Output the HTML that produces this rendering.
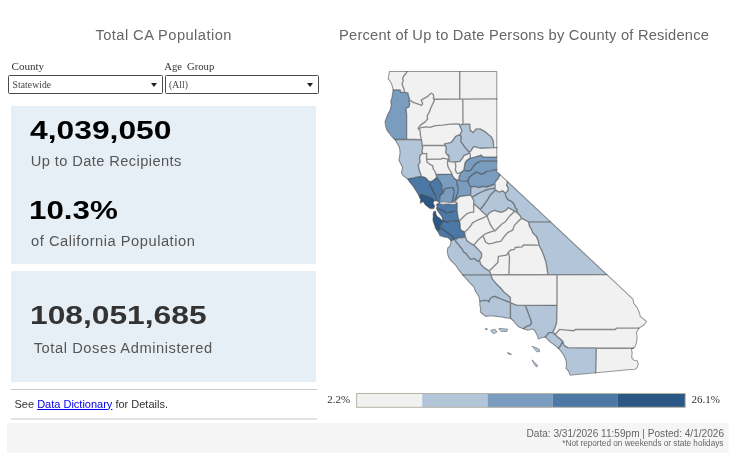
<!DOCTYPE html>
<html><head><meta charset="utf-8">
<style>
html,body{margin:0;padding:0;background:#fff;}
body{width:736px;height:454px;position:relative;overflow:hidden;font-family:"Liberation Sans",sans-serif;}
.abs{position:absolute;white-space:nowrap;line-height:1;}
.title{font-size:14.67px;color:#666;}
.lbl{font-family:"Liberation Serif",serif;font-size:11.3px;color:#333;}
.dd{position:absolute;box-sizing:border-box;border:1px solid #4a4a4a;border-radius:1.5px;background:#fff;height:18.2px;}
.dd span{position:absolute;left:3.3px;top:4.1px;font-family:"Liberation Serif",serif;font-size:9.6px;letter-spacing:0.1px;color:#444;line-height:1;white-space:nowrap;}
.dd i{position:absolute;right:4.9px;top:6.7px;width:0;height:0;border-left:3.2px solid transparent;border-right:3.2px solid transparent;border-top:4px solid #222;}
.panel{position:absolute;background:#e6eff6;}
.big{font-weight:bold;font-size:26.67px;color:#000;transform:scaleX(1.17);transform-origin:0 0;}
.sub{font-size:14.67px;color:#555;}
</style></head><body>
<div class="abs title" id="t1" style="left:95.4px;top:28.4px;letter-spacing:0.45px;">Total CA Population</div>
<div class="abs title" id="t2" style="left:339px;top:28.4px;letter-spacing:0.225px;">Percent of Up to Date Persons by County of Residence</div>
<div class="abs lbl" id="c1" style="left:11.5px;top:60.7px;font-size:11.1px;">County</div>
<div class="abs lbl" id="c2" style="left:164.3px;top:61px;font-size:10.7px;word-spacing:2.2px;">Age Group</div>
<div class="dd" style="left:8.2px;top:75.4px;width:154.4px;"><span id="d1">Statewide</span><i></i></div>
<div class="dd" style="left:164.7px;top:75.4px;width:154.3px;"><span id="d2">(All)</span><i></i></div>
<div class="panel" style="left:11px;top:106px;width:305.4px;height:158px;"></div>
<div class="panel" style="left:11px;top:271px;width:305.4px;height:110.6px;"></div>
<div class="abs big" id="n1" style="left:30.3px;top:116.9px;transform:scaleX(1.193);">4,039,050</div>
<div class="abs sub" id="s1" style="left:30.8px;top:153.7px;letter-spacing:0.4px;">Up to Date Recipients</div>
<div class="abs big" id="n2" style="left:29.3px;top:196.9px;transform:scaleX(1.175);">10.3%</div>
<div class="abs sub" id="s2" style="left:31.1px;top:233.8px;letter-spacing:0.53px;">of California Population</div>
<div class="abs big" id="n3" style="left:30.3px;top:301.9px;transform:scaleX(1.191);color:#333;">108,051,685</div>
<div class="abs sub" id="s3" style="left:33.7px;top:341px;letter-spacing:0.57px;">Total Doses Administered</div>
<div class="abs" style="left:11px;top:389px;width:305.5px;height:1px;background:#cacaca;"></div>
<div class="abs" style="left:11px;top:418px;width:305.5px;height:2px;background:#e3e3e3;"></div>
<div class="abs" id="see" style="left:14.5px;top:398.7px;font-size:11px;color:#333;">See <a style="color:#0000ee;text-decoration:underline;">Data Dictionary</a> for Details.</div>
<svg class="abs" style="left:0;top:0" width="736" height="454"><rect x="7.15" y="423" width="721.45" height="29.7" fill="#f5f5f5"/></svg>
<div class="abs" id="f1" style="right:12px;top:428.5px;font-size:10.08px;color:#666;">Data: 3/31/2026 11:59pm | Posted: 4/1/2026</div>
<div class="abs" id="f2" style="right:12.6px;top:439.7px;font-size:8.2px;color:#666;">*Not reported on weekends or state holidays</div>
<svg width="736" height="454" viewBox="0 0 736 454" style="position:absolute;left:0;top:0">
<path d="M389.4,71.6 388.2,79 389.6,80.5 391.6,84 392.6,87 393.1,89.6 399.6,89.6 400.1,90 400.6,92.2 404.2,92.2 403.8,88.6 402.2,85 402,83.1 403.1,81 403.1,80.2 402.5,78.6 403.6,75.9 406.2,72.9 406.5,71.6ZM402.8,78 402.6,79.1 403.2,80.6 402.1,82.8 402.1,83.6 402.8,86.4 404,89.1 404.5,92.2 407.4,92.8 407.9,93.1 408.6,96.8 409.5,98.8 409.5,100.1 413.9,102.6 417.1,103.6 420.6,105.1 421.6,105.1 422.4,104.2 422.4,103.1 421.1,100.1 427.8,96.4 430.4,93.8 431.4,93.2 433.4,94.9 433.8,97 433.5,98.9 434,99.1 459.5,99 459.5,71.6 406.8,71.6 405.8,73.4 403.8,75.5ZM459.8,71.6 459.8,99 496.6,98.8 496.6,71.6ZM431.9,93.5 430.8,93.5 430,93.9 427.2,96.6 421.4,100 421.4,100.8 422.6,103.8 421.2,105.4 418.4,104.1 414.4,102.9 410,100.4 409.2,100.4 409.1,101.9 409.8,104.1 408.9,106.8 408.2,107.2 406.9,107.6 406.1,108.6 406.2,112 406.6,113.9 406.6,139 421.1,139.6 420.2,135 420,130.4 418.2,128.5 418.8,127.1 421.8,124.1 424.9,122.1 427.5,119 427,116.2 428.9,112.8 431.1,106.9 433.8,101.8 434.2,100.1 434.2,99.2 433.2,98.8 433.5,97.5 433.2,94.6ZM462.9,99.2 463,123.9 469.6,124 469.9,124.4 470.1,130.1 472.5,132.2 473.2,132.2 476.8,128.6 479.9,128.6 484.1,131 491.5,137.1 493.4,141.6 493.8,147.5 496.6,147.5 496.6,99ZM462.6,99.2 434.5,99.4 434,101.1 431.4,106.2 429.1,112.1 427.1,115.9 427.6,118.8 424.8,122.1 421.2,124.4 419,126.6 418.8,128.2 419.6,128.2 421.6,127.4 426.4,126.8 430.5,127.1 435.2,125.5 442.4,125 450.2,123.9 458.6,123.6 459.1,124 459.4,124.8 460.2,124.8 462.8,124ZM459,123.9 449.5,124.1 442.8,125.1 435.5,125.6 430,127.4 425.5,127 421.5,127.5 418.8,128.5 418.8,129.4 420.2,131 420.5,135.5 421.5,139.8 422.2,145.4 444.4,145.4 444.4,144 444.6,143.8 451.2,142.4 455.9,136.1 460.1,134.2 461.8,131 461.8,130.2ZM448.9,159 448.6,155.8 448.2,155.8 445.6,152.6 446.1,147.2 445.2,145.5 422.4,145.6 422.6,148.2 422.1,151.8 422.9,153.2 426.8,153.6 426.8,159.2 441.5,158.8 442.5,158.1 447.2,159ZM469.5,152.2 469.5,153 470.2,154.4 470.2,157.9 474.4,157.1 478,155.9 480.6,155.4 480.9,155 483,156.9 496.6,156.9 496.6,147.8 481.5,148.4 477.8,147.8 474.6,146.6 473.6,146.6 471.6,149.8ZM469.6,153.1 468.8,153.1 467.2,154.1 463.6,155.6 462.5,158.1 459.9,161.4 455.4,161.9 455.9,166.2 455.4,169.9 456.4,172.5 457.2,173.4 458.2,173.4 460.5,172.5 463.6,170.1 465,162.8 466.6,160.4 470,158.2 470,153.8ZM422.4,153.4 420.1,155.2 419.6,158.1 420.1,161.9 418.4,164.8 418.9,168.8 421.4,176.2 424.9,177.4 428.1,180.6 429.6,181.6 430.8,181.6 433.2,180.5 436.6,177.5 436,174.4 434.9,171.5 433,168.6 432.5,165.8 430,164.4 426.9,161.8 426.5,159.4 426.5,153.8ZM426.9,159.5 427.1,162.2 430,164.4 432.6,165.9 433.2,169 435.2,172.1 436,174.2 451.5,173.9 451.1,172.1 449.2,169.4 447.6,166 447.2,163.1 447.6,159.1 442.2,158.2 440.9,159ZM447.9,159.2 447.5,162 447.9,166.6 449.2,169.4 451.1,172.1 452.5,175.8 453.8,177.9 456.5,179.8 458.6,180 459,176.4 460.2,174.6 460,173 459.2,173 457.6,173.6 456.1,171.9 455.2,169.6 455.6,165.5 455.1,162 449.4,161.6 448.9,161.1 448.9,159.2ZM499.8,174.9 498.4,177.9 495.2,181.6 494.9,183.2 495.2,186.4 495,188.6 495.9,190.2 498.4,191.8 499.8,191.8 502.6,190.8 504.9,193 505.6,193 507.6,191 508.2,188.8 508.2,187.9 506.5,184.9 507.2,181.2 500.5,174.9ZM470.5,195.2 459.8,196.5 457.9,197.9 455.4,200.9 454.6,201.1 454.6,201.9 456.6,202.9 457.1,203.5 457.1,211.5 457.8,216.1 459,220.6 459.8,220.6 464,216.2 467.2,213.4 470.6,212.1 473.5,212.1 473.8,200.4 472,196.9ZM438.6,202 438.6,203.1 440.1,203.8 442.5,204.1 446.5,203.9 452.9,204.1 456.2,203.9 456.5,203.6 456.4,202.8 454.5,201.8 453.2,201.8 450.5,202.5 448,202.4 444.6,201.8 440.6,202.2ZM474.6,204.4 473.8,204.4 473.6,212.1 473.2,212.4 470,212.4 466.9,213.5 459.5,220.6 460.2,224.5 460.2,228.9 461.5,230.8 463.9,231.8 465,231.8 468.2,228.8 471.4,224.9 472.8,222.6 477.4,220.1 486.5,216.2 486.5,215.5 480,209.1ZM514.5,210.9 508.9,207.9 508,207.9 505.1,210.8 501.4,212.2 498.6,211.8 495.1,210.4 494.4,210.4 491.4,211.5 488.9,213.2 487.2,215.5 487.2,216.8 490.6,225.2 493,228.9 494.8,230.4 495.5,230.4 502.2,223.6 505.8,221.2 509.1,216.8 514.5,211.6ZM520.1,215.5 517.1,212.5 515.6,211.5 514.5,211.5 513.8,211.9 509.5,216.1 505.4,221.6 501.9,223.9 494.9,230.8 485.8,233.5 483,235.4 483,236.2 484.6,239.4 485.6,242.1 488.5,243.6 489.4,243.6 493.4,242.9 497.1,241.6 500.8,241.2 503.4,237.5 507.8,232.5 512.6,230.1 514.4,225.2 521.1,218.5 521.1,217.5ZM487.1,216.2 486,216.4 476.8,220.4 472.2,222.9 471.2,224.9 468.8,228 464.8,231.8 465.1,236.2 466.6,240 467.2,240.9 470,243 473.2,244.8 474,244.8 479.4,238.8 483.2,235.2 486.2,233.2 494.5,230.8 494.5,230 493,228.9 490.6,225.2ZM528.1,221.5 522,218.4 521,218.4 514.5,224.9 512.8,229.9 507.4,232.6 503.8,236.9 501,240.9 500.2,241.5 496.5,241.9 492.2,243.2 488.9,243.8 485.5,241.9 484.4,238.8 483,236 482.2,236 478.1,239.8 474,244.6 474,245.4 479.8,251.1 481.6,253.5 481.6,256.5 479.9,259.2 479.6,261 480.8,264.2 483.9,267.5 488.8,270.8 489.6,270.8 497.6,262.8 498.1,257.4 498.5,256.2 506.2,255 507.8,253 510.9,250 514.5,249.4 514.9,248 515.5,247.4 522.1,246.8 523.6,244.9 538.6,245 538.2,241.4 536.4,236.2 532.5,232.4 531.1,229 529.4,226.2ZM508.2,252.2 508.2,253 509.6,257 508.9,274.6 547.6,274.5 547,268.1 545.8,261.5 541.5,249.9 539,245.2 523.1,245.1 521.6,247 515.1,247.6 514.4,249.4 510.8,250ZM508.4,253.2 507.5,253.2 506.1,255.1 498.5,256.2 497.8,262.4 489.5,270.6 489.5,271.6 490.9,274.6 508.6,274.6 509.4,256.4ZM557.1,274.8 557,307.5 556.6,322.4 555.1,327.2 552.8,331.9 552.8,332.6 554.9,333.5 555.9,333.5 559.6,329.4 574.1,330.5 575.5,329.2 615.5,329.2 616.8,328 639.1,328 643.9,325.1 646.1,322 646,320.9 640.1,316.1 639.4,312.9 637,307.5 633.6,303.2 632.9,298.8 607.2,274.8ZM556.8,304.9 556.9,274.8 491.2,274.9 491.2,275.9 492.1,278.9 495.1,282.6 500.9,288.4 503.9,292 510.4,297.6 510.5,302.6 516,304.9 518.2,305ZM638.5,328.2 616.1,328.2 614.9,329.5 574.9,329.5 573.8,330.6 559.2,329.5 555.5,333.8 554.8,333.8 554.8,334.5 563,341.6 563.9,345.1 567.4,347.5 596.1,347.8 596.5,348 633.5,348 635,346.5 636.2,342.9 636.9,338.4 636.4,332.6 638.5,329ZM596.4,348.2 595.8,372.5 635.4,369 637,367.6 638.1,364.2 638.1,363.5 637.1,361 634.1,360.2 631.5,357.2 631.9,351.9 631.4,348.2Z" fill="#f1f1f1"/>
<path d="M459.8,124.9 459.8,126 461.9,130.6 460.1,134 460.1,134.8 461.2,136.9 460.8,141.6 465,147.8 469,152 469.9,152 474,146.4 477.6,147.6 480.6,148.1 493.5,147.5 493.1,141 491.4,136.9 484.6,131.2 480.4,128.9 476.1,128.9 472.8,132.4 469.9,129.6 469.6,124.1 462.4,124.1ZM460.1,134.6 459,134.8 455.6,136.2 451,142.5 444.8,143.9 444.8,144.8 446.2,147.6 445.8,152.9 447.6,155.2 448.8,155.2 449.1,161.4 456.1,161.8 460.1,161.2 462.5,158.2 463.9,155.5 466.4,154.5 469.2,152.9 469.2,152 464.6,147.1 460.6,141.4 461.1,136.5ZM395.4,139.6 395.4,140.4 399.5,147.9 400.1,152.6 398.9,160.4 402.5,167.5 401.4,172.8 403,175.5 407.2,178.6 412.5,178.1 417.8,176.8 421.1,176.2 421.1,175.5 418.8,168.6 418.2,165 420,162.1 419.4,158.8 420,155.4 422.4,153.5 422,150.8 422.5,147.1 422,145.4 421.4,139.9 408.2,139.2ZM507.2,182 506.6,185.4 508.4,188.6 507.9,190.5 505.4,193 506,196.6 507.9,199.6 511.2,201.2 514.1,204.1 515.4,207.9 517.1,209.8 517.1,212.8 520.2,215.9 521.5,218.2 527.9,221.5 549.6,221.6 549.6,220.9 511.9,185.5 508.1,182ZM494.8,184.1 493.8,184.1 490.2,185.8 486.6,187 482.2,186.5 479.1,187.6 475.5,186.5 470.9,187 470.9,192.6 470.4,195.4 471.6,196.8 472.5,196.8 484.1,190.6 490.2,188.8 494.8,188.2 495,187.1ZM495,188.4 489.6,189 483.5,190.9 472.4,196.8 472.2,197.6 474,201 473.8,203.9 479.6,209 480.5,209 483.4,205.9 484.2,204.2 487.8,199.5 490,195.4 494.2,191.1 495.5,190.4 495.5,189.5ZM480.4,209 480.4,209.8 486.5,215.6 487.2,215.6 488.6,213.5 491.5,211.5 494.6,210.2 498,211.5 501.6,212.1 505.5,210.6 507.8,208.5 508.1,207.6 516.1,212 516.9,212 516.9,209.1 515.1,207.4 513.9,203.6 511.6,201.4 507.6,199.4 505.8,196.2 505.1,193 503.1,191 501.9,191 498.9,192 496.2,190.4 495.2,190.4 493.8,191.4 490,195.1 487.6,199.5 483.5,205.5ZM528.5,221.8 529.5,226.4 531.5,229.6 532.6,232.8 536.6,236.9 538.4,241.6 539,245.5 541.8,250.5 544.2,256.8 546,262 547.2,268.8 547.9,274.5 606,274.4 606,273.6 550.9,222ZM455.4,239.2 455.4,240.4 456.2,242.2 458.9,244.9 459.5,246.4 462.1,249 463.5,251.9 466.4,254.1 470.2,259 471.8,259 474.1,258.5 477.8,261.1 478.6,261.1 479.5,260.5 479.9,259.2 481.4,257.1 481.4,252.9 473.9,245 470.5,243.2 467.4,240.9 466.6,240 465.5,237 461.9,237.6 460.4,237.6 459.6,237.1 458.8,237.1 456.6,238.9ZM451,240.6 450.6,243.6 449.9,246 448,247.5 447.6,248.2 447.4,252.5 448.2,256.4 449.8,259.4 455.8,265.5 458.9,270.1 462.5,274.8 490.6,274.6 490.6,273.9 489.4,271.1 484.4,267.8 480.6,263.9 479.6,260.9 478.9,260.9 478.2,261.4 474.4,258.6 470.6,259.2 466.4,254 463.5,251.8 462,248.6 459.4,246 458.8,244.5 456.1,241.9 455.1,239.6 453.1,239.8ZM463.4,275 463.4,275.8 470,283.2 474,287.2 475.4,291.2 478.9,296.5 479.8,300.8 484,300.1 487.8,300.5 488.2,301 489.1,301 489.9,299 493.1,296.5 495,296.2 498.6,298.1 509.2,302.1 510.2,302.1 510.2,297.2 504.5,292.4 500.4,287.6 494.8,282 492,278.6 491,274.9ZM479.9,301 479.9,305.5 480.6,308.2 480.4,312.1 485.4,316.2 491.2,315.6 501.4,316.9 505.8,317.8 510.2,318.1 510.1,302.4 499.2,298.4 495.4,296.4 492.9,296.6 490.2,298.5 488.8,301.8 488.2,300.8 483.2,300.4ZM510.5,302.9 510.5,318.4 513.8,321.4 515.8,324 518.8,327 522.1,328.2 523.6,328.4 526.9,326.1 530.2,325.1 531.4,323 531.4,322.1 525.2,305.5 516.6,305.1 511.4,302.9ZM556.8,305.1 525.5,305.4 525.6,306.6 530,317.9 531.5,322.6 530,325.2 526.1,326.5 523.9,328.1 523.9,328.9 527.2,330 532.6,328.9 535.4,331.6 537.4,335.6 538.4,338.6 539.1,338.6 541.8,337.5 545.2,337 549.1,332.4 552.6,332.4 554.9,327.9 556.4,323ZM548.6,332.6 545.6,336.4 545.5,337.4 550,341.9 557.5,347.6 558.6,347.9 560.1,346.4 562.6,342 562.6,341.1 552.8,332.6ZM562.2,342.2 560.1,346.1 558.5,347.8 558.5,348.5 561.4,351.8 564.2,356.1 566.1,360.9 566.5,365.1 566,368.5 568.5,371 570,375 595.5,372.5 596.1,348 568,347.8 564.2,345.4 563.8,344.9 563.1,342.2Z" fill="#b2c5d9"/>
<path d="M393.1,89.9 392,97.5 390.8,101 391.2,105.5 390.2,109.5 387.5,114.9 385.1,121.5 385.8,126.6 386.9,130 393,138.1 394.8,139.4 406.4,139 406.4,113.2 405.9,109.2 407.1,107.5 408.8,107 409.6,104.4 409.6,103.4 409,101.6 409.4,98.5 408.2,95.8 407.6,92.9 405.2,92.5 401,92.5 400.5,92.1 400,89.9ZM496.6,157.1 483.6,157.1 481.6,155.5 480.1,155.5 473.8,157.4 470.1,158.1 466.6,160.4 465.1,162.5 463.9,170.1 466.9,171 470.6,170.4 472.1,168 476,163.4 477.9,162.1 480,161.6 480.5,161.1 496.6,161.1ZM496.6,161.4 481.1,161.4 477.9,162.1 475.1,164.1 470.6,170.4 467,171.1 463.4,170.2 461.9,171.6 460.2,172.6 460.4,174.4 459.2,175.8 458.9,180.1 462.4,180.6 467.8,180.8 468.9,177.9 471.4,175.2 476.2,172 478.5,172.6 480.9,173.9 482,173.9 483.9,173.5 486.8,171.1 491.2,170.6 496.6,169.4ZM499.8,174.2 496.8,171.4 496.6,169.6 491.2,170.8 486.5,171.2 483.8,173.5 482,174 481.2,174 478,172.5 476,172.1 471.1,175.4 469,177.5 467.9,180.5 467.9,181.2 468.8,183.6 470.6,186.9 475.4,186.4 478.5,187.5 479.2,187.5 482.4,186.4 486.8,186.9 490.5,185.6 494.5,183.9 495,182.1 498.2,178.2 499.8,175.1ZM436.2,174.5 436.9,177.5 440.4,182.5 442,185.8 441.6,188 443,191.5 443.8,191.5 444.4,189.4 444.9,188.8 448.5,187.8 452.5,187.4 454.1,190.8 454.1,191.9 452.4,201.8 453.8,201.6 455.8,198 458.1,190.6 457.9,186.6 457,184.8 456.2,179.6 453.8,177.9 452.1,175.1 451.9,174.1ZM467.8,181 463.1,180.9 456.6,180 457.1,184.9 458,186.6 458.4,190 455.5,198.8 454.8,199.9 454.8,200.8 455.6,200.8 457.1,198.8 460,196.4 470.2,195 470.6,193.1 470.6,186.8 468.9,184ZM452.8,187.5 447.9,188 444.6,188.9 443.5,192.4 440.2,195.2 439.5,201.9 441.5,202 444.6,201.6 449.1,202.4 450.5,202.4 452.1,201.9 453.5,195.6 454,190.4Z" fill="#7a9cbf"/>
<path d="M408,178.8 408,179.6 410,182.6 413.4,186.5 418.6,194.9 421.6,194.5 426.2,195.9 432.4,198.1 432.8,198.5 433.5,201 435.9,200.5 435.6,196 431.5,187.8 429.5,184.5 429.9,181.6 428.6,180.9 425.4,177.6 421.8,176.4 420.6,176.4 412.5,178.2ZM436.2,177.6 433.2,180.4 430.1,181.9 429.6,184.8 431.5,187.8 435.9,196.6 436.1,200.6 438.2,201.8 439.2,201.8 440.1,195.5 443.1,192.9 443.1,191.9 441.5,187.8 441.9,185.4 440.4,182.4 437.2,177.9ZM436.6,204.4 436.6,205.4 437,206.1 436.9,208.1 443,210.4 446.2,213.1 447.4,213.1 450.6,211.9 456.9,210.6 456.9,203.9 452.1,204.4 448.4,204.1 443.2,204.4 440.8,204 439.1,203.2 438.1,203.2ZM436.9,208.4 437.1,210.2 441.9,216.8 443,220.8 446.5,221.9 447.5,221.9 449.6,221.1 458.8,220.9 458.8,220 457.5,215.5 457,210.9 455.9,210.9 450.6,212 446.8,213.4 443.4,210.5 437.6,208.4ZM442.8,221.1 440.9,224.2 440.9,228.2 442.8,229 446.9,232.6 450.4,234.8 454.8,239.2 456.9,238.8 459.1,236.9 460.1,237.5 464.6,237.1 465,236.8 464.5,232 461.4,230.6 460.1,228.6 460,224 459.4,221.1 449,221.4 447.2,222 443.9,221ZM437.9,230.5 437.9,231.4 440,235.6 444.4,237.1 447.8,237.5 450.6,240.2 451.8,240.2 454.4,239.4 454.4,238.6 450.8,235 446.9,232.5 442.9,229 441.5,228.5 440.4,228.5Z" fill="#4c78a5"/>
<path d="M419.1,195.1 419.5,197.6 420.8,199.5 420.4,202.6 421.2,202.6 423.2,201.4 425,204.4 428.6,207.5 430.5,208.6 433.6,208.5 434.5,206.2 434.5,205.2 433.4,204.2 433.1,202.6 433.4,200.8 432.6,198.2 421.9,194.6ZM433.6,211.5 433.4,214.4 435.9,214.8 435.8,212.4 435.4,211.4ZM433.4,214.6 433,219 433.1,220.9 435.9,229.1 437.2,230.5 438,230.5 440.6,228.4 440.6,224.9 442.6,221.4 442.6,220.6 441.6,220.1 439.6,218 437.6,216.8 436,215Z" fill="#2b5784"/>
<path d="M490.71,330.18 495.1,329.18 496.98,332.07 493.85,333.7 491.96,332.44Z" fill="#b2c5d9" stroke="rgba(60,60,60,0.56)" stroke-width="0.8" stroke-linejoin="round"/>
<path d="M498.87,328.3 503.26,328.68 507.65,329.18 507.03,331.44 501.38,331.44 499.5,329.93Z" fill="#b2c5d9" stroke="rgba(60,60,60,0.56)" stroke-width="0.8" stroke-linejoin="round"/>
<path d="M485.06,328.68 486.94,328.43 487.57,329.43 485.69,329.68Z" fill="#b2c5d9" stroke="rgba(60,60,60,0.56)" stroke-width="0.8" stroke-linejoin="round"/>
<path d="M532.01,346.3 535.77,347.55 538.91,349.06 539.91,351.32 537.03,351.94 535.14,350.06 533.26,347.55Z" fill="#b2c5d9" stroke="rgba(60,60,60,0.56)" stroke-width="0.8" stroke-linejoin="round"/>
<path d="M532.01,359.85 534.52,362.61 537.65,365.12 537.03,367.01 535.14,365.75 533.26,362.61Z" fill="#b2c5d9" stroke="rgba(60,60,60,0.56)" stroke-width="0.8" stroke-linejoin="round"/>
<path d="M507.53,352.57 510.04,353.2 511.55,354.45 509.41,354.45 507.78,353.58Z" fill="#b2c5d9" stroke="rgba(60,60,60,0.56)" stroke-width="0.8" stroke-linejoin="round"/>
<path d="M406.98,71.55 406.11,73.18 403.85,75.69 402.59,78.83 403.35,80.71 402.09,83.22 402.59,85.73 403.85,88.62 404.6,92.38M393.18,89.87 400.08,89.87 400.71,92.38 404.6,92.38 407.86,92.88M407.86,92.88 408.62,96.4 409.5,98.91 409.12,101.42 409.75,103.93 408.87,107.07 406.98,107.69 406.11,108.95 406.36,112.71 406.61,113.77 406.61,139.24M409.32,100.11 413.89,102.67 417.65,103.93 421.42,105.44 422.67,103.93 422.05,102.05 421.17,100.16 423.3,98.91 427.69,96.4 430.2,93.89 431.46,93.26 433.34,94.52 433.72,97.03 433.34,98.91 434.6,99.29M434.6,99.29 459.7,99.16M459.7,71.55 459.7,99.16M459.7,99.16 496.78,98.91M462.8,99.14 462.97,124.06M434.6,99.29 433.97,101.42 431.46,106.44 428.95,112.71 428.32,113.77 427.07,116.28 427.69,118.79 425.18,121.92 421.42,124.43 418.91,126.94 418.28,128.83M395.06,139.5 406.61,139.24 421.42,139.75M418.28,128.83 420.16,130.71 420.41,135.1 421.42,139.75M418.28,128.83 421.42,127.57 426.44,126.94 430.2,127.32 435.23,125.69 442.76,125.06 450.29,124.06 459.07,123.81 459.45,125.06 462.97,124.06M421.42,139.75 422.05,143.89 422.17,145.52 422.67,147.65 422.05,151.42 422.67,153.3 420.16,155.18 419.54,158.77 420.16,161.9 418.28,165.04 418.91,168.81 420.16,172.57 421.42,176.34M422.17,145.52 444.64,145.52 444.39,143.89M422.67,153.3 426.44,153.68 426.63,153.26 426.63,159.38M426.63,159.38 441.3,158.97 442.53,158.15 444.97,158.56 447.83,159.13 449.05,159.13M426.63,159.38 427.04,162.23 429.89,164.27 432.74,165.9 433.15,168.75 435.19,172.01 436.01,174.46 436.82,177.31M436.82,177.31 435.6,178.53 433.15,180.57 430.2,181.98M436.01,174.46 451.09,174.05 451.9,174.05M447.83,159.13 447.42,163.04 447.83,166.3 449.46,169.57 451.09,172.01 451.9,174.05 452.31,175.27 453.94,178.12 456.39,179.76 458.83,180.33M444.39,143.89 446.28,147.65 445.65,152.67 448.16,155.81 448.64,154.89 449.05,159.13 449.05,161.58M449.05,161.58 455.16,161.98 460.05,161.41 462.5,158.15 463.72,155.71 467.39,154.08 469.43,152.85M444.39,143.89 451.3,142.38 455.69,136.36 460.08,134.47M459.45,125.06 461.96,130.71 460.08,134.47M462.97,124.06 469.75,124.06 470.12,130.08 472.88,132.59 476.4,128.83 480.16,128.83 484.56,131.34 488.32,134.47 491.46,136.98 493.34,141.38 493.72,147.65M493.72,147.65 496.79,147.65M493.72,147.65 481.42,148.28 477.65,147.65 473.89,146.4 471.38,150.16 469.5,152.42M460.08,134.47 461.34,136.98 460.71,141.38 465.1,147.65 469.5,152.42M469.43,152.85 470.24,154.08 470.24,158.15M470.24,158.15 473.91,157.34 477.99,156.11 481.25,155.3 480.79,154.93 483.3,157.07 496.8,157.07M470.24,158.15 466.58,160.6 464.95,163.04 464.54,166.3 463.72,170.22M463.72,170.22 467.39,171.2 470.65,170.38 472.28,167.93 473.91,165.9 475.54,163.86 477.99,162.23 481.25,161.41 480.16,161.28 496.8,161.28M455.16,161.98 455.82,166.3 455.33,169.57 456.39,172.42 457.61,173.64 460.05,172.83M463.72,170.22 462.09,171.6 460.05,172.83M460.05,172.83 460.46,174.46 459.24,176.09 458.83,180.33M458.83,180.33 463.32,180.82 467.8,180.98M467.8,180.98 469.02,177.72 471.47,175.27 473.91,173.64 476.36,172.01 478.8,172.83 481.25,174.05 483.7,173.64 486.44,171.32 491.46,170.69 496.8,169.43M467.8,180.98 469.02,184.24 470.75,187.01M470.75,187.01 475.14,186.38 478.91,187.63 482.67,186.38 486.44,187.01 490.2,185.75 494.85,183.87M500.02,174.61 498.36,178.22 495.23,181.98 494.85,183.87M507.49,181.61 506.52,185.12 508.4,188.26 507.78,190.77 505.27,193.28M505.27,193.28 502.76,190.77 498.99,192.03 495.85,190.14 494.97,188.26 495.23,186.38 494.85,183.87M470.75,187.01 470.75,192.65 470.37,195.16 472.01,197.05M470.37,195.16 460.08,196.42 457.57,198.3 455.69,200.81 453.81,201.44M472.01,197.05 477.65,193.91 483.93,190.77 490.2,188.89 494.97,188.26M495.85,190.14 493.97,191.4 490.2,195.16 487.69,199.56 483.83,205 483.42,205.82 480.16,209.48M472.01,197.05 473.89,200.81 473.64,203.7 473.64,205 473.64,212.34M473.64,203.7 476.09,205.82 480.16,209.48 483.42,212.74 487.09,216.01M473.64,212.34 470.38,212.34 467.12,213.56 463.04,217.23 459.38,220.9M487.09,216.01 488.72,213.56 491.58,211.52 494.84,210.3 498.1,211.52 501.36,212.34 505.43,210.71 507.88,208.26 508.24,207.55 511.38,209.43 515.14,211.32 517.03,212.57M505.27,193.28 505.89,196.42 507.78,199.56 511.54,201.44 514.05,203.95 515.31,207.71 517.03,209.43 517.03,212.57 520.16,215.71 521.42,218.22 528.32,221.73M528.32,221.73 550.46,221.84M528.32,221.73 529.58,226.38 531.46,229.52 532.71,232.65 536.48,236.42 538.36,241.44 538.99,245.2 541.5,250.04 544.01,256.32 545.89,261.96 547.15,268.87 547.78,274.51M487.09,216.01 482.61,218.04 476.9,220.49 472.42,222.93 471.36,224.97 468.34,228.64 464.67,232.07M487.09,216.01 488.72,220.49 490.76,225.38 493.21,229.05 495.24,230.68M495.24,230.68 498.1,227.83 502.17,223.75 505.43,221.71 507.88,218.45 509.5,216.34 513.89,211.94 515.14,211.32M495.24,230.68 490.76,231.9 485.87,233.53 482.85,235.73M482.85,235.73 478.32,239.78 473.83,245.08M482.85,235.73 484.43,238.97 485.65,242.23 488.91,243.86 492.99,243.04 497.07,241.82 500.71,241.44 503.85,237.05 507.61,232.65 512.63,230.14 514.52,225.12 517.65,221.98 521.42,218.22M508.24,252.55 510.75,250.04 514.52,249.41 515.14,247.53 522.05,246.9 523.3,245.02 538.99,245.2M489.28,271 497.82,262.59 498.44,256.32 506.6,255.06 506.36,255.06 508.24,252.55M508.24,252.55 509.5,256.94 508.87,274.64M462.67,274.89 606.82,274.6M457.11,203.16 457.11,210.69 457.74,215.71 459,221M459.38,220.9 460.19,224.57 460.19,228.64 461.41,230.68 464.27,231.9 464.67,232.07 465.08,235.98 465.27,236.52M465.27,236.52 464.46,237.34 460.38,237.74 459.16,236.93 456.71,238.97 455.08,239.38M440.79,228.26 442.67,228.89 447.07,232.65 447.34,232.85 450.6,234.89 453.04,237.34 455.08,239.38M455.08,239.38 453.04,239.78 451.01,240.6M455.08,239.38 456.3,242.23 458.75,244.67 459.57,246.3 462.01,248.75 463.64,252.01 466.09,253.64 468.53,256.9 470.57,259.35 472.61,258.94 474.24,258.53 476.28,260.16 478.32,261.39 479.54,260.57M465.27,236.52 466.9,240.6 470.16,243.04 473.83,245.08 476.68,247.93 479.13,250.38 481.58,253.23 481.58,256.9 479.95,259.35 479.54,260.57M479.54,260.57 479.95,261.79 480.76,264.24 484.01,267.61 489.28,271 490.91,274.52M443.1,220.75 440.79,224.5 440.79,228.26M437.65,230.77 440.79,228.26M433.26,214.45 436.1,215M443.1,220.75 447,222.1 449.5,221.3 459,221M436.7,208.1 440.1,209.4 443.25,210.6 446.7,213.4 450.1,212.2 457.11,210.69M453.81,201.44 457.11,203.16M407.61,178.85 412.63,178.22 417.65,176.96 421.42,176.34M421.42,176.34 425.18,177.59 428.32,180.73 430.2,181.98M430.2,181.98 429.58,184.5 431.46,187.63 433.97,192.65 435.85,196.42 436.1,200.6M418.91,195.16 421.42,194.54 427.69,196.42 432.71,198.3 433.62,201.25M436.82,177.31 438.86,180.16 440.49,182.61 442.12,185.87 441.5,187.63 443.38,192.65M443.38,192.65 440.25,195.16 439.33,202M443.38,192.65 444.64,188.89 448.4,187.88 452.67,187.38 454.18,190.77 453.68,195.16 452.67,199.56 452.24,202.03M456.39,179.76 456.79,182.61 457.2,185.05 457.94,186.38 458.32,190.14 457.06,194.54 455.43,198.93 453.8,201.69M490.91,274.52 492.17,278.91 495.31,282.67 500.33,287.69 503.89,291.9 507.65,295.04 510.41,297.55 510.41,302.57M479.79,301.07 483.81,300.31 488.2,300.69 488.83,301.94 490.08,298.81 493.22,296.55 495.1,296.3 498.87,298.18 503.89,300.06 510.41,302.57M510.41,302.57 513.3,303.83 516.44,305.08 525.23,305.33 556.98,305.08M557,274.7 556.98,305.08M556.98,305.08 556.61,322.55 555.1,327.57 552.59,332.59M510.41,302.57 510.41,318.26M525.23,305.33 527.11,310.1 528.99,315.12 530.87,320.14 531.5,322.65 530.25,325.16 526.48,326.42 523.34,328.68M552.59,332.59 548.83,332.59 545.31,337.09M552.59,332.59 556.36,335.73 562.88,341.38M562.88,341.38 560.12,346.4 558.36,348.18M552.59,332.59 555.73,333.85 559.5,329.45 566.4,330.08 573.93,330.71 575.18,329.45 586.48,329.45 600.29,329.45 615.35,329.45 616.4,328.16 638.99,328.16M562.88,341.38 563.89,345.14 567.65,347.65 580.2,347.9 596.52,347.9 596.32,348.24 633.34,348.24M596.32,348.24 595.69,372.71" fill="none" stroke="rgba(60,60,60,0.58)" stroke-width="1.35" stroke-linejoin="round" stroke-linecap="round"/>
<path d="M389.41,71.55 496.77,71.55M496.77,71.55 496.8,171.6 633,299.1 633.72,303.26 637.11,307.65 639.62,313.3 640.25,316.44 646.52,321.46 644.01,325.02 638.99,328.16 636.48,332.55 637.11,337.57 636.48,342.59 635.23,346.36 633.34,348.24 631.46,348.87 632.09,352.63 631.71,357.65 633.97,360.16 637.11,360.79 638.36,363.93 637.11,367.69 635.23,369.2 630.2,369.58 617.65,370.83 595.69,372.71 580,374.22 570.04,375.16M389.41,71.55 389.04,74.43 388.16,78.83 389.79,80.71 391.55,83.85 392.55,86.98 393.18,89.87 392.55,93.89 391.92,97.65 390.67,101.42 391.3,105.18 390.04,110.2 387.53,115.02 385.02,121.92 385.65,126.32 386.9,130.08 390.04,134.47 393.18,138.24 395.06,139.5 397.57,143.89 399.45,147.65 400.08,152.67 399.45,157.69 398.83,160.02 400.71,163.79 402.59,167.55 401.34,172.57 403.22,175.71 407.61,178.85 410.12,182.61 413.26,186.38 416.4,191.4 418.91,195.16 419.54,197.67 420.79,199.56 420.16,203.32 423.3,201.44 425.18,204.58 428.95,207.71 430.75,208.81 433.6,208.75M433.6,211.6 433.26,214.45 433.26,216.34 432.88,220.1 434.52,225.12 435.77,228.89 437.65,230.77 440,235.71 442.45,236.52 444.89,237.34 448.15,237.74 450.19,239.78 451.01,240.6 450.6,243.86 449.78,246.3 447.74,247.93 447.34,252.01 448.15,256.09 449.78,259.35 453.04,262.61 455.49,265.05 458.91,270.12 462.67,274.89 466.44,278.91 470.2,283.3 473.97,287.07 475.23,290.83 476.28,292.53 478.79,296.3 479.79,301.07 479.79,305.08 480.67,308.85 480.29,311.98 483.18,314.5 485.69,316.38 491.34,315.75 496.36,316.38 501.38,317.01 506.4,317.88 510.41,318.26 513.3,320.77 515.81,323.91 518.95,327.05 523.34,328.68 527.74,330.18 532.76,328.93 535.27,331.44 537.15,335.2 538.4,338.97 541.54,337.71 545.31,337.09 550.2,341.9 555.23,345.67 558.36,348.18 561.5,351.94 564.01,355.71 565.89,360.1 566.52,364.5 565.89,368.26 568.4,370.77 570.04,375.16M433.6,208.75 434.2,207.2 434.8,205.6 433.6,204.7 433.25,202.5 433.6,201.25 436.1,200.6 438.6,201.9 438.6,203.1 436.4,204.7 437,206.25 436.7,208.1 437,210 438.6,212.2 440.1,214.1 441.7,216.25 442.6,218.75 443.1,220.75 441.4,220 439.5,218.1 437.3,216.6 436.1,215 435.9,212.8 435.4,211.25 433.6,211.6M438.6,201.9 440.75,202.2 443.9,201.7 447,202.2 450.1,202.5 453.8,201.69M438.6,203.1 440.5,203.9 443.25,204.3 447,204 451.4,204.3 456,204 457.11,203.16" fill="none" stroke="rgba(60,60,60,0.52)" stroke-width="1.05" stroke-linejoin="round" stroke-linecap="round"/>
</svg>
<svg class="abs" id="leg" style="left:0;top:0" width="736" height="454">
<rect x="356.6" y="393.5" width="65.6" height="13.8" fill="#f1f1f1"/>
<rect x="422.2" y="393.5" width="65.3" height="13.8" fill="#b2c5d9"/>
<rect x="487.5" y="393.5" width="65.3" height="13.8" fill="#7a9cbf"/>
<rect x="552.75" y="393.5" width="65.1" height="13.8" fill="#4c78a5"/>
<rect x="617.8" y="393.5" width="67.4" height="13.8" fill="#2b5784"/>
<rect x="356.6" y="393.5" width="328.6" height="13.8" fill="none" stroke="#b7b3a5" stroke-width="1"/>
</svg>
<div class="abs lbl" id="l1" style="left:327.3px;top:393.7px;font-size:11px;">2.2%</div>
<div class="abs lbl" id="l2" style="left:691.6px;top:393.7px;font-size:11px;">26.1%</div>
</body></html>
